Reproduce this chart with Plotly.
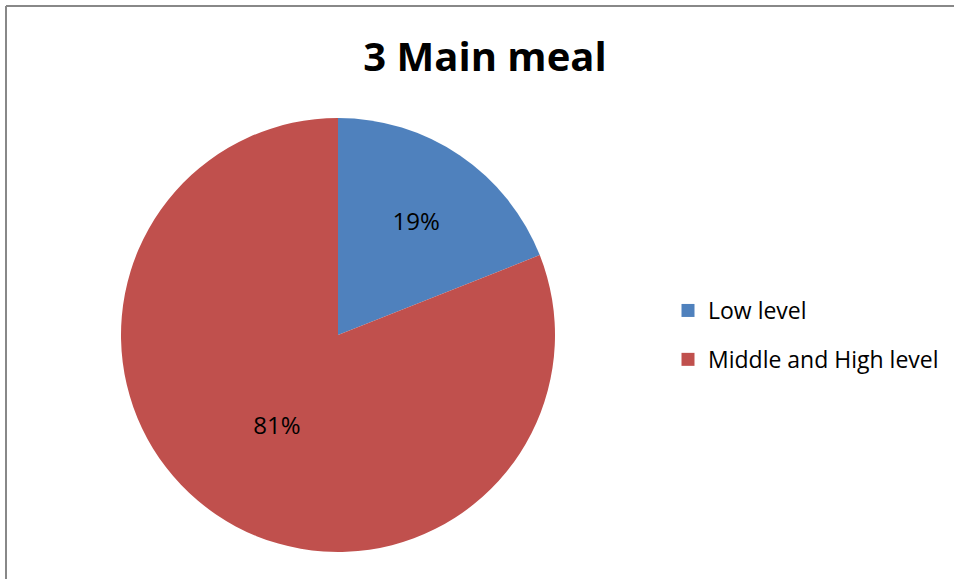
import plotly.graph_objects as go

labels = ["Low level", "Middle and High level"]
values = [19, 81]
colors = ["#4F81BD", "#C0504D"]
title_text = "3 Main meal"

W, H = 954, 579
cx, cy, r = 338, 335, 217

fig = go.Figure()
fig.add_trace(go.Pie(
    labels=labels,
    values=values,
    sort=False,
    direction="clockwise",
    rotation=0,
    marker=dict(colors=colors, line=dict(width=0)),
    textinfo="percent",
    texttemplate="%{percent:.0%}",
    textposition="inside",
    insidetextorientation="horizontal",
    textfont=dict(family="Open Sans", size=24, color="#000000"),
    domain=dict(x=[(cx - r) / W, (cx + r) / W], y=[(H - cy - r) / H, (H - cy + r) / H]),
    hoverinfo="label+percent",
    showlegend=False,
))

# legend entries (square swatches) matching the slices
for lab, col in zip(labels, colors):
    fig.add_trace(go.Scatter(
        x=[None], y=[None], mode="markers", name=lab, legendgroup=lab,
        marker=dict(symbol="square", size=13, color=col),
        showlegend=True, hoverinfo="skip",
    ))

fig.update_layout(
    width=W, height=H,
    margin=dict(l=0, r=0, t=0, b=0),
    paper_bgcolor="white",
    plot_bgcolor="white",
    xaxis=dict(visible=False),
    yaxis=dict(visible=False),
    title=dict(text="<b>" + title_text + "</b>", x=485 / W, xanchor="center",
               y=1 - 57 / H, yanchor="middle",
               font=dict(family="Open Sans", size=40, color="#000000")),
    legend=dict(x=668 / W, xanchor="left", y=1 - 335 / H, yanchor="middle",
                font=dict(family="Open Sans", size=23, color="#000000"),
                itemwidth=30, tracegroupgap=16, itemsizing="trace",
                bgcolor="rgba(0,0,0,0)"),
    shapes=[
        dict(type="line", xref="paper", yref="paper", x0=6 / W, x1=6 / W, y0=0, y1=1 - 6 / H,
             line=dict(color="#888888", width=2)),
        dict(type="line", xref="paper", yref="paper", x0=6 / W, x1=1, y0=1 - 6 / H, y1=1 - 6 / H,
             line=dict(color="#888888", width=2)),
    ],
)

fig.write_html("out.html")
